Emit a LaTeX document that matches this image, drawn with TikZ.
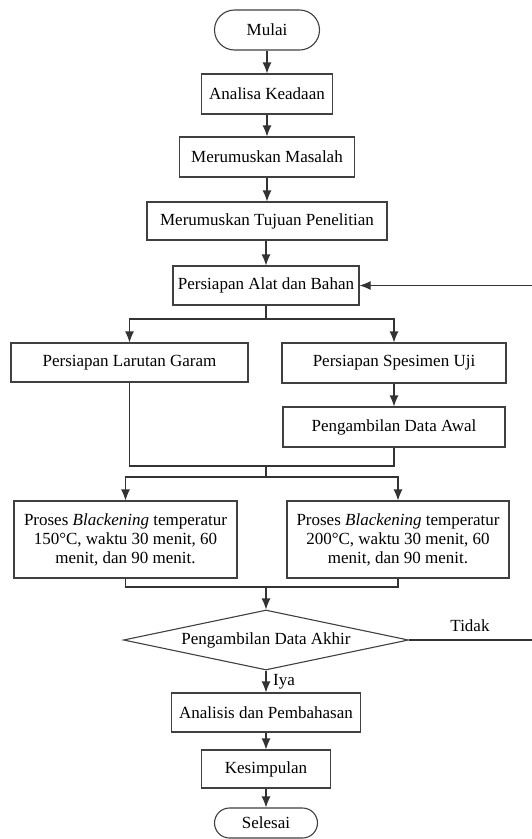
\documentclass[tikz,border=0pt]{standalone}
\usepackage{fontspec}
\setmainfont{Liberation Serif}
\usetikzlibrary{shapes.geometric,arrows.meta}
\begin{document}
\begin{tikzpicture}[x=1pt,y=-1pt,
  box/.style={draw=black!75, line width=1.1pt, inner sep=0pt, fill=white,
    font=\fontsize{17}{19}\selectfont, align=center},
  term/.style={box, rounded corners=#1},
  dec/.style={box, shape=diamond, aspect=4.75},
  lbl/.style={inner sep=0pt, font=\fontsize{17}{19}\selectfont},
  ln/.style={draw=black!80, line width=1.1pt},
  arr/.style={ln, -{Latex[length=11pt,width=9pt]}}]
\useasboundingbox (0,0) rectangle (532,839);
\fill[white] (0,0) rectangle (532,839);

\node[term=20pt, minimum width=105pt, minimum height=40pt] (mulai) at (267,30) {Mulai};
\node[box, minimum width=131pt, minimum height=40pt] (analisa) at (267,94) {Analisa Keadaan};
\node[box, minimum width=175pt, minimum height=40pt] (masalah) at (267,157) {Merumuskan Masalah};
\node[box, minimum width=240pt, minimum height=38pt] (tujuan) at (267,221) {Merumuskan Tujuan Penelitian};
\node[box, minimum width=186pt, minimum height=39pt] (alat) at (266,285.5) {Persiapan Alat dan Bahan};

\node[box, minimum width=237pt, minimum height=39pt] (larutan) at (129.5,362.5) {Persiapan Larutan Garam};
\node[box, minimum width=224pt, minimum height=40pt] (spesimen) at (394,363) {Persiapan Spesimen Uji};
\node[box, minimum width=222pt, minimum height=40pt] (awal) at (394,427) {Pengambilan Data Awal};

\node[box, minimum width=223pt, minimum height=77pt] (proses1) at (125.5,539.5)
  {Proses \textit{Blackening} temperatur\\150°C, waktu 30 menit, 60\\menit, dan 90 menit.};
\node[box, minimum width=222pt, minimum height=77pt] (proses2) at (398,539.5)
  {Proses \textit{Blackening} temperatur\\200°C, waktu 30 menit, 60\\menit, dan 90 menit.};

\node[dec, minimum width=285pt, minimum height=60pt] (akhir) at (266,640) {Pengambilan Data Akhir};
\node[box, minimum width=189pt, minimum height=39pt] (analisis) at (266,712.5) {Analisis dan Pembahasan};
\node[box, minimum width=129pt, minimum height=38pt] (kesimpulan) at (266,769) {Kesimpulan};
\node[term=15pt, minimum width=103pt, minimum height=30pt] (selesai) at (266,823) {Selesai};

\node[lbl, anchor=west] (iya) at (273,682) {Iya};
\node[lbl] (tidak) at (470,626) {Tidak};

\draw[arr] (mulai) -- (analisa);
\draw[arr] (analisa) -- (masalah);
\draw[arr] (masalah) -- (tujuan);
\draw[arr] (tujuan.south -| alat) -- (alat);

\coordinate (b1) at (266,319);
\draw[ln] (alat.south) -- (b1);
\draw[arr] (b1) -| (larutan.north);
\draw[arr] (b1) -| (spesimen.north);
\draw[arr] (spesimen) -- (awal);

\coordinate (m1) at (266,466);
\coordinate (b2) at (266,477);
\draw[ln] (larutan.south) |- (m1);
\draw[ln] (awal.south) |- (m1);
\draw[ln] (m1) -- (b2);
\draw[arr] (b2) -| (proses1.north);
\draw[arr] (b2) -| (proses2.north);

\coordinate (m2) at (266,587);
\draw[ln] (proses1.south) |- (m2);
\draw[ln] (proses2.south) |- (m2);
\draw[arr] (m2) -- (akhir.north);

\draw[arr] (akhir.south) -- (analisis.north);
\draw[arr] (analisis) -- (kesimpulan);
\draw[arr] (kesimpulan) -- (selesai);

\coordinate (r2) at (545,285.5);
\draw[arr] (akhir.east) -- (akhir.east -| r2) -- (r2) -- (alat.east);
\end{tikzpicture}
\end{document}
